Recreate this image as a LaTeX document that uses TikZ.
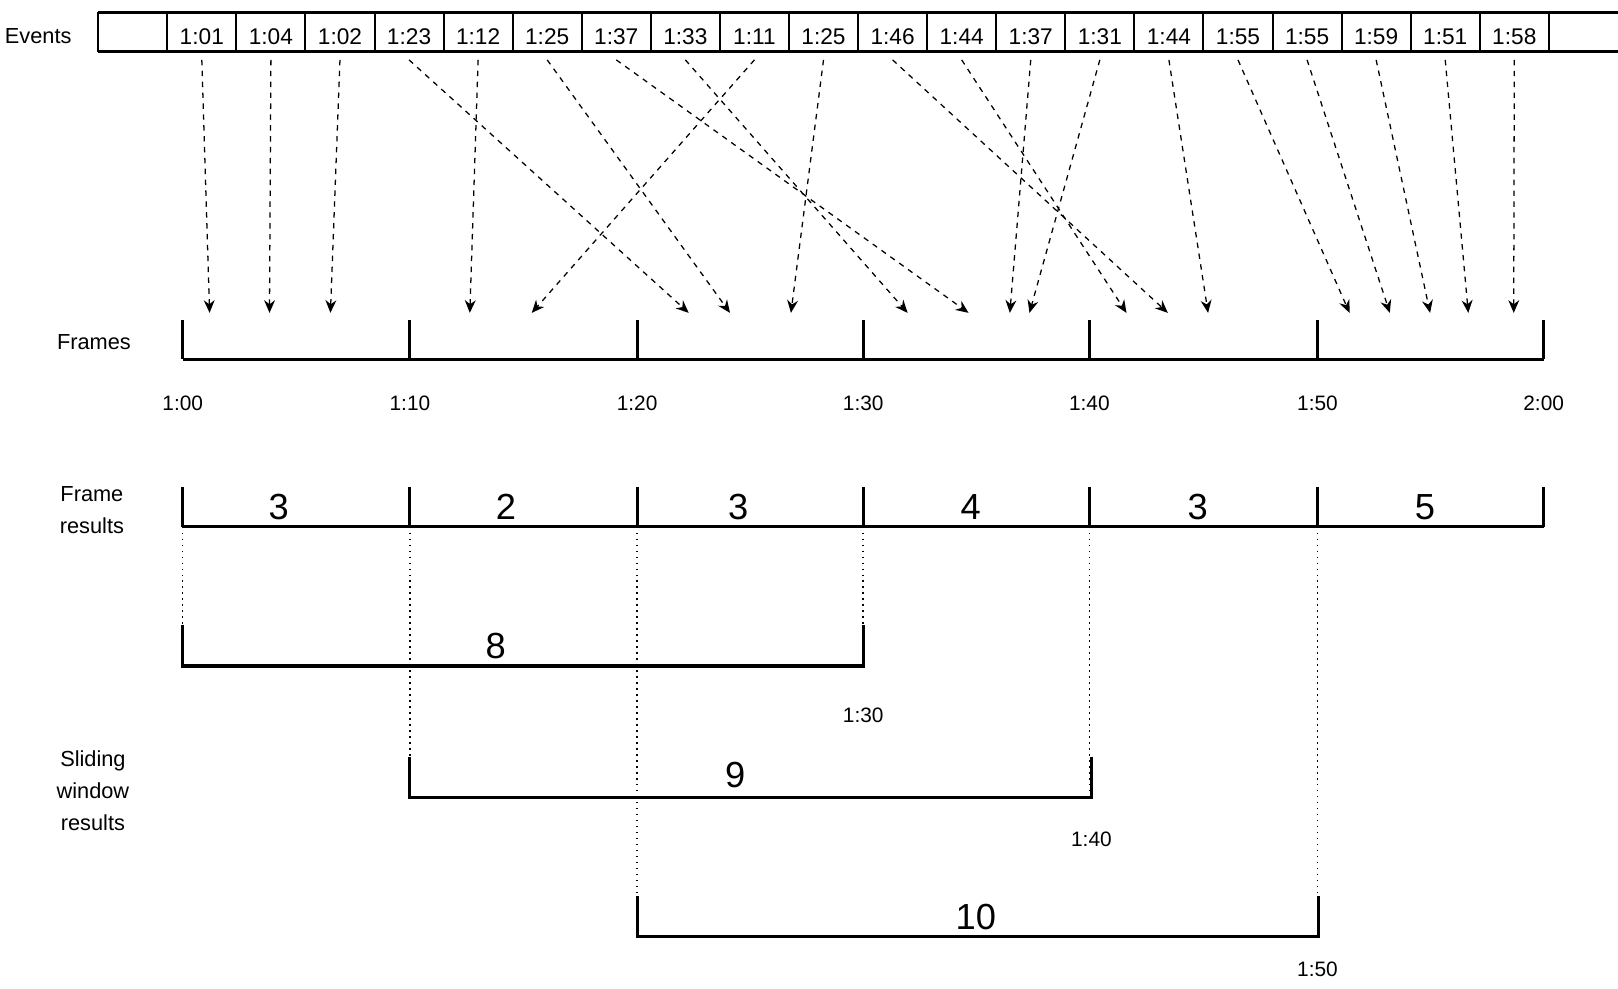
\documentclass[tikz,border=0pt]{standalone}
\usepackage{fontspec}
\setmainfont{Liberation Sans}
\usetikzlibrary{arrows.meta}
\begin{document}
\begin{tikzpicture}[x=0.02cm,y=-0.02cm,
  thickline/.style={line width=1.7pt},
  evarrow/.style={dashed,line width=0.7pt,-{Stealth[length=7pt,width=6pt]}},
  dotline/.style={line width=0.8pt,dash pattern=on 0.8pt off 2.5pt},
  lbl/.style={font=\fontsize{12}{14}\selectfont,inner sep=0pt},
  small/.style={font=\fontsize{11.5}{13}\selectfont,inner sep=0pt},
  big/.style={font=\fontsize{20}{22}\selectfont,inner sep=0pt},
  cell/.style={draw,line width=1.1pt,minimum width=66.9*0.02cm,minimum height=38*0.02cm,inner sep=0pt}]
\useasboundingbox (0,0) rectangle (1567,957);
% Events band
\draw[line width=1.1pt] (95,12) -- (95,50);
\node[lbl] (events) at (37,35) {Events};
\foreach \t [count=\i] in {1:01,1:04,1:02,1:23,1:12,1:25,1:37,1:33,1:11,1:25,1:46,1:44,1:37,1:31,1:44,1:55,1:55,1:59,1:51,1:58}{
  \node[cell] (e\i) at ({162+66.9*(\i-0.5)},31) {};
  \node[font=\fontsize{12.5}{14}\selectfont,inner sep=0pt,anchor=base] (l\i) at ({162+66.9*(\i-0.5)},43) {\t};}
\draw[thickline] (95,12) -- (1567,12) (95,50) -- (1567,50);
% targets
\foreach \x [count=\i] in {203,261,320,667,455,707,938,879,515,766,1131,1091,978,997,1170,1307,1346,1385,1422,1466}
  \coordinate (t\i) at (\x,303);
\foreach \i in {1,...,20} \draw[evarrow] ([yshift=-4pt]e\i.south) -- (t\i);
% Frames
\node[lbl] (frames) at (91,331) {Frames};
\draw[thickline] (177,348) -- (1495,348);
\foreach \x/\l in {177/1:00,397/1:10,617/1:20,836/1:30,1055/1:40,1276/1:50,1495/2:00}{
  \draw[thickline] (\x,310) -- (\x,348);
  \node[small] at (\x,391) {\l};}
% Frame results
\node[lbl,align=center,font=\fontsize{12}{17.5}\selectfont] (fr) at (89,494) {Frame\\results};
\draw[thickline] (177,510) -- (1495,510);
\foreach \x in {177,397,617,836,1055,1276,1495} \draw[thickline] (\x,472) -- (\x,510);
\foreach \x/\n in {270/3,490/2,715/3,940/4,1160/3,1380/5} \node[big] at (\x,491) {\n};
\foreach \x/\y in {177/605,397/735,617/870,836/645,1055/770,1276/905} \draw[dotline] (\x,510) -- (\x,\y);
% Sliding windows
\node[lbl,align=center,font=\fontsize{12}{17.5}\selectfont] (sw) at (90,766) {Sliding\\window\\results};
\draw[thickline] (177,605) -- (177,645) -- (836,645) -- (836,605);
\node[big] at (480,626) {8};
\node[small] at (836,693) {1:30};
\draw[thickline] (397,733) -- (397,772) -- (1057,772) -- (1057,733);
\node[big] at (712,751) {9};
\node[small] at (1057,813) {1:40};
\draw[thickline] (617,868) -- (617,907) -- (1277,907) -- (1277,868);
\node[big] at (945,888) {10};
\node[small] at (1276,939) {1:50};
\end{tikzpicture}
\end{document}
